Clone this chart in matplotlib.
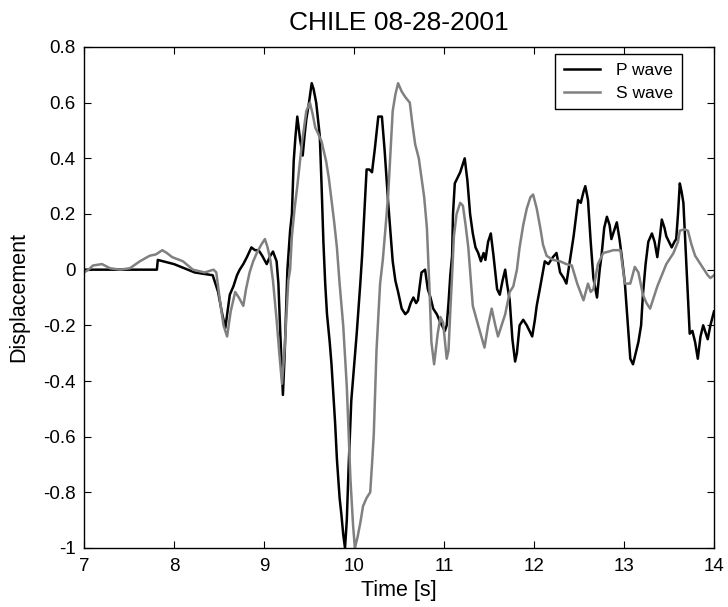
import matplotlib
matplotlib.use('Agg')
import matplotlib.pyplot as plt
import numpy as np

plt.rcParams['font.family'] = ['Liberation Sans', 'DejaVu Sans']

# P wave (black)
p_t = [7.00, 7.81, 7.82, 8.00, 8.23, 8.43, 8.49, 8.53, 8.57, 8.62, 8.66, 8.70, 8.73, 8.77,
       8.81, 8.86, 8.90, 8.94, 8.98, 9.03, 9.07, 9.10, 9.14, 9.16, 9.18, 9.21, 9.23, 9.26,
       9.29, 9.31, 9.33, 9.35, 9.37, 9.40, 9.43, 9.45, 9.47, 9.50, 9.53, 9.55, 9.58, 9.62,
       9.64, 9.66, 9.68, 9.70, 9.73, 9.75, 9.79, 9.81, 9.84, 9.86, 9.88, 9.90, 9.92, 9.94,
       9.97, 10.00, 10.03, 10.07, 10.09, 10.12, 10.14, 10.17, 10.20, 10.23, 10.27, 10.31,
       10.34, 10.38, 10.43, 10.46, 10.49, 10.53, 10.57, 10.60, 10.63, 10.66, 10.69, 10.71,
       10.75, 10.79, 10.82, 10.85, 10.88, 10.92, 10.96, 11.01, 11.03, 11.05, 11.07, 11.09,
       11.10, 11.12, 11.15, 11.18, 11.21, 11.23, 11.26, 11.29, 11.32, 11.35, 11.38, 11.41,
       11.44, 11.46, 11.49, 11.52, 11.55, 11.59, 11.62, 11.65, 11.68, 11.70, 11.73, 11.76,
       11.79, 11.81, 11.84, 11.88, 11.92, 11.95, 11.98, 12.01, 12.03, 12.07, 12.12, 12.16,
       12.21, 12.25, 12.29, 12.33, 12.36, 12.40, 12.44, 12.49, 12.52, 12.55, 12.57, 12.60,
       12.63, 12.66, 12.70, 12.73, 12.75, 12.78, 12.81, 12.84, 12.86, 12.89, 12.92, 12.95,
       12.98, 13.01, 13.03, 13.07, 13.10, 13.13, 13.16, 13.19, 13.21, 13.24, 13.27, 13.31,
       13.34, 13.37, 13.40, 13.42, 13.45, 13.47, 13.50, 13.53, 13.56, 13.58, 13.60, 13.62,
       13.64, 13.66, 13.70, 13.73, 13.76, 13.79, 13.82, 13.85, 13.88, 13.91, 13.93, 13.96,
       14.00]
p_y = [0.0, 0.0, 0.035, 0.02, -0.01, -0.02, -0.08, -0.15, -0.21, -0.09, -0.06, -0.02, 0.0, 0.02,
       0.045, 0.08, 0.07, 0.07, 0.05, 0.02, 0.05, 0.065, 0.03, -0.05, -0.22, -0.45, -0.3, 0.0,
       0.14, 0.2, 0.39, 0.48, 0.55, 0.47, 0.41, 0.48, 0.54, 0.6, 0.67, 0.65, 0.6, 0.48,
       0.3, 0.1, -0.05, -0.16, -0.26, -0.34, -0.55, -0.68, -0.82, -0.88, -0.95, -1.0, -0.9, -0.71,
       -0.47, -0.35, -0.23, -0.05, 0.05, 0.24, 0.36, 0.36, 0.35, 0.43, 0.55, 0.55,
       0.43, 0.24, 0.03, -0.04, -0.08, -0.14, -0.16, -0.15, -0.12, -0.1, -0.12, -0.11,
       -0.01, 0.0, -0.07, -0.1, -0.14, -0.16, -0.19, -0.22, -0.2, -0.12, -0.02, 0.05,
       0.2, 0.31, 0.33, 0.35, 0.38, 0.4, 0.32, 0.2, 0.13, 0.08, 0.06, 0.03,
       0.06, 0.035, 0.1, 0.13, 0.05, -0.07, -0.09, -0.04, 0.0, -0.05, -0.11, -0.25,
       -0.33, -0.3, -0.2, -0.18, -0.2, -0.22, -0.24, -0.18, -0.13, -0.06, 0.03, 0.02,
       0.045, 0.06, -0.01, -0.03, -0.05, 0.035, 0.12, 0.25, 0.24, 0.28, 0.3, 0.25,
       0.1, -0.03, -0.1, 0.0, 0.05, 0.15, 0.19, 0.16, 0.11, 0.14, 0.17, 0.11,
       0.035, -0.05, -0.14, -0.32, -0.34, -0.3, -0.26, -0.2, -0.09, 0.02, 0.1, 0.13,
       0.1, 0.045, 0.12, 0.18, 0.15, 0.12, 0.1, 0.08, 0.1, 0.11, 0.2, 0.31,
       0.28, 0.24, -0.03, -0.23, -0.22, -0.26, -0.32, -0.24, -0.2, -0.23, -0.25, -0.2,
       -0.15]

# S wave (gray)
s_t = [7.00, 7.05, 7.10, 7.20, 7.29, 7.40, 7.51, 7.62, 7.73, 7.80, 7.87, 7.92, 7.98, 8.10,
       8.21, 8.34, 8.44, 8.47, 8.51, 8.55, 8.59, 8.63, 8.68, 8.72, 8.77, 8.80, 8.84, 8.88,
       8.92, 8.97, 9.01, 9.04, 9.07, 9.10, 9.14, 9.17, 9.20, 9.23, 9.27, 9.29, 9.31, 9.34,
       9.37, 9.42, 9.47, 9.51, 9.54, 9.57, 9.60, 9.64, 9.69, 9.72, 9.75, 9.78, 9.81, 9.84,
       9.88, 9.92, 9.96, 9.99, 10.01, 10.04, 10.07, 10.10, 10.14, 10.18, 10.20, 10.22, 10.25,
       10.29, 10.32, 10.35, 10.38, 10.41, 10.43, 10.46, 10.49, 10.53, 10.57, 10.62, 10.65,
       10.68, 10.72, 10.75, 10.78, 10.81, 10.84, 10.86, 10.89, 10.93, 10.96, 10.99, 11.03,
       11.05, 11.07, 11.09, 11.11, 11.14, 11.18, 11.21, 11.24, 11.27, 11.32, 11.38, 11.45,
       11.49, 11.53, 11.57, 11.60, 11.64, 11.68, 11.73, 11.77, 11.81, 11.84, 11.88, 11.92,
       11.96, 11.99, 12.03, 12.07, 12.10, 12.14, 12.21, 12.29, 12.36, 12.42, 12.48, 12.55,
       12.60, 12.63, 12.66, 12.71, 12.77, 12.83, 12.88, 12.96, 13.01, 13.07, 13.12, 13.16,
       13.21, 13.25, 13.29, 13.33, 13.37, 13.42, 13.47, 13.55, 13.60, 13.62, 13.67, 13.71,
       13.75, 13.79, 13.87, 13.93, 13.96, 14.00]
s_y = [-0.01, 0.0, 0.015, 0.02, 0.005, 0.0, 0.005, 0.03, 0.05, 0.055, 0.07, 0.06, 0.045, 0.03,
       0.0, -0.01, 0.0, -0.01, -0.11, -0.2, -0.24, -0.15, -0.08, -0.1, -0.13, -0.07, -0.01, 0.03,
       0.06, 0.09, 0.11, 0.08, 0.035, -0.04, -0.18, -0.3, -0.41, -0.28, -0.04, 0.0, 0.12, 0.22,
       0.3, 0.45, 0.57, 0.6, 0.56, 0.51, 0.49, 0.46, 0.39, 0.33, 0.25, 0.17, 0.08, -0.05,
       -0.2, -0.42, -0.75, -0.92, -1.0, -0.96, -0.91, -0.85, -0.82, -0.8, -0.7, -0.59, -0.29,
       -0.05, 0.035, 0.15, 0.27, 0.45, 0.57, 0.63, 0.67, 0.64, 0.62, 0.6, 0.52,
       0.45, 0.4, 0.33, 0.26, 0.15, -0.08, -0.26, -0.34, -0.23, -0.17, -0.19, -0.32,
       -0.29, -0.15, -0.02, 0.12, 0.2, 0.24, 0.23, 0.16, 0.08, -0.13, -0.2, -0.28,
       -0.2, -0.14, -0.2, -0.24, -0.2, -0.16, -0.08, -0.06, 0.0, 0.08, 0.16, 0.22,
       0.26, 0.27, 0.22, 0.15, 0.09, 0.05, 0.035, 0.03, 0.02, 0.015, -0.05, -0.11,
       -0.05, -0.08, -0.07, 0.02, 0.06, 0.065, 0.07, 0.07, -0.05, -0.05, 0.01, -0.01,
       -0.09, -0.12, -0.14, -0.1, -0.06, -0.02, 0.02, 0.06, 0.1, 0.14, 0.145, 0.14,
       0.09, 0.05, 0.01, -0.02, -0.03, -0.02]

x_ticks = [7, 8, 9, 10, 11, 12, 13, 14]
y_ticks = [-1, -0.8, -0.6, -0.4, -0.2, 0, 0.2, 0.4, 0.6, 0.8]
y_labels = ['-1', '-0.8', '-0.6', '-0.4', '-0.2', '0', '0.2', '0.4', '0.6', '0.8']

fig = plt.figure(figsize=(7.28, 6.07), dpi=100)
ax = fig.add_axes([84/728, 59/607, 630/728, 501/607])

ax.plot(p_t, p_y, color='k', linewidth=1.8, label='P wave')
ax.plot(s_t, s_y, color='#808080', linewidth=1.8, label='S wave')

ax.set_xlim(7, 14)
ax.set_ylim(-1, 0.8)
ax.set_xticks(x_ticks)
ax.set_xticklabels([str(v) for v in x_ticks])
ax.set_yticks(y_ticks)
ax.set_yticklabels(y_labels)
ax.tick_params(direction='in', top=True, right=True, length=5, labelsize=13.5)
ax.tick_params(axis='x', pad=7)
ax.tick_params(axis='y', pad=6)
for s in ax.spines.values():
    s.set_linewidth(1.0)

ax.set_title('CHILE 08-28-2001', fontsize=19, pad=12)
ax.set_xlabel('Time [s]', fontsize=15.5, labelpad=4)
ax.set_ylabel('Displacement', fontsize=15.5, labelpad=10)

leg = ax.legend(loc='upper right', bbox_to_anchor=(0.949, 0.986), fontsize=12.5,
                fancybox=False, framealpha=1, edgecolor='k', borderaxespad=0,
                handlelength=2.1, handletextpad=0.9, borderpad=0.5,
                labelspacing=0.45)
leg.get_frame().set_linewidth(1.0)

fig.savefig('out.png', dpi=100)
